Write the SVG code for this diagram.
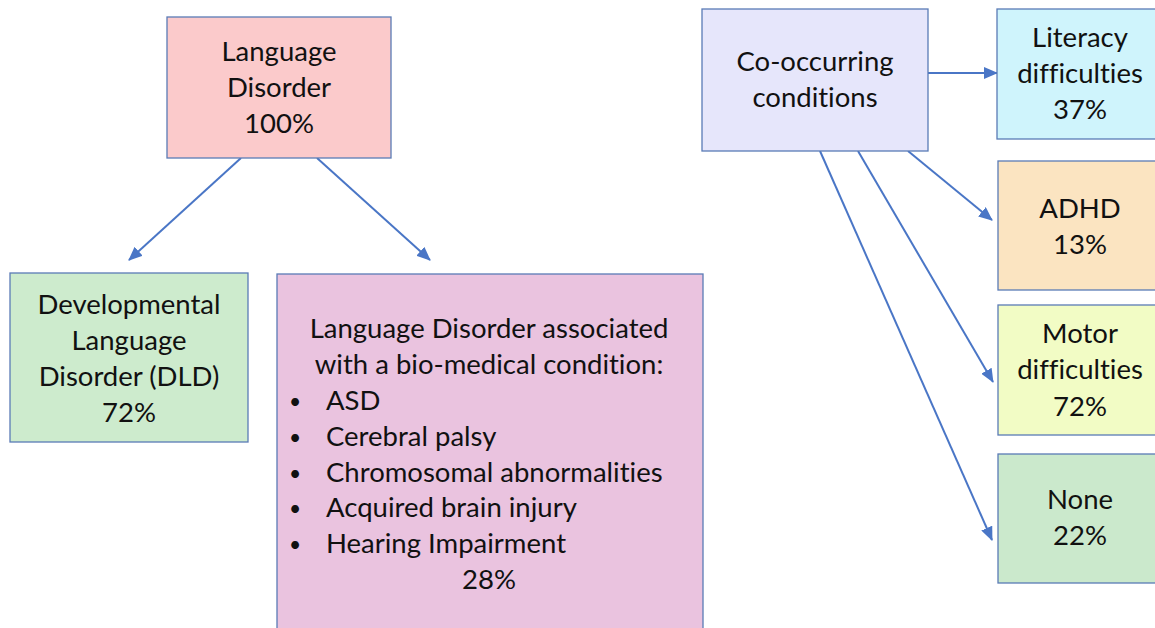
<svg xmlns="http://www.w3.org/2000/svg" width="1155" height="628" viewBox="0 0 1155 628">
<style>
.box{stroke:#5A7BB6;stroke-width:1.3}
.t{font-family:Lato,"Liberation Sans",sans-serif;font-size:27.5px;fill:#111;font-variant-ligatures:none}
.b{font-family:Lato,"Liberation Sans",sans-serif;font-size:21px;fill:#111}
.c{text-anchor:middle}
.conn{stroke:#4A76C6;stroke-width:2;fill:none}
</style>
<defs>
<marker id="ah" markerUnits="userSpaceOnUse" markerWidth="14" markerHeight="12" viewBox="0 0 14 12" refX="13" refY="6" orient="auto">
<path d="M0,0 L14,6 L0,12 Z" fill="#4A76C6"/>
</marker>
</defs>
<rect width="1155" height="628" fill="#fff"/>
<g id="connectors">
<line class="conn" x1="241" y1="158" x2="129" y2="260" marker-end="url(#ah)"/>
<line class="conn" x1="317" y1="158" x2="430" y2="260" marker-end="url(#ah)"/>
<line class="conn" x1="928" y1="73" x2="997" y2="73" marker-end="url(#ah)"/>
<line class="conn" x1="908" y1="151" x2="992" y2="220" marker-end="url(#ah)"/>
<line class="conn" x1="858" y1="151" x2="993" y2="382" marker-end="url(#ah)"/>
<line class="conn" x1="820" y1="151" x2="992" y2="540" marker-end="url(#ah)"/>
</g>
<g id="language-disorder">
<rect class="box" x="167" y="17" width="224" height="141" fill="#FBCACB"/>
<text class="t c" x="279" y="61">Language</text>
<text class="t c" x="279" y="97">Disorder</text>
<text class="t c" x="279" y="133">100%</text>
</g>
<g id="dld">
<rect class="box" x="10" y="273" width="238" height="169" fill="#CDEBCD"/>
<text class="t c" x="129" y="314">Developmental</text>
<text class="t c" x="129" y="350">Language</text>
<text class="t c" x="129" y="386">Disorder (DLD)</text>
<text class="t c" x="129" y="422">72%</text>
</g>
<g id="biomedical">
<rect class="box" x="277" y="274" width="426" height="360" fill="#EAC3DF"/>
<text class="t c" x="489" y="338">Language Disorder associated</text>
<text class="t c" x="489" y="374">with a bio-medical condition:</text>
<text class="b" x="289" y="409">•</text><text class="t" x="326" y="410">ASD</text>
<text class="b" x="289" y="445">•</text><text class="t" x="326" y="446">Cerebral palsy</text>
<text class="b" x="289" y="481">•</text><text class="t" x="326" y="482">Chromosomal abnormalities</text>
<text class="b" x="289" y="516">•</text><text class="t" x="326" y="517">Acquired brain injury</text>
<text class="b" x="289" y="552">•</text><text class="t" x="326" y="553">Hearing Impairment</text>
<text class="t c" x="489" y="589">28%</text>
</g>
<g id="co-occurring">
<rect class="box" x="702" y="9" width="226" height="142" fill="#E6E6FB"/>
<text class="t c" x="815" y="71">Co-occurring</text>
<text class="t c" x="815" y="107">conditions</text>
</g>
<g id="literacy">
<rect class="box" x="997" y="9" width="168" height="130" fill="#CFF4FC"/>
<text class="t c" x="1080" y="47">Literacy</text>
<text class="t c" x="1080" y="83">difficulties</text>
<text class="t c" x="1080" y="119">37%</text>
</g>
<g id="adhd">
<rect class="box" x="998" y="161" width="167" height="129" fill="#FBE4C1"/>
<text class="t c" x="1080" y="218">ADHD</text>
<text class="t c" x="1080" y="254">13%</text>
</g>
<g id="motor">
<rect class="box" x="998" y="305" width="167" height="130" fill="#F2FCC5"/>
<text class="t c" x="1080" y="343">Motor</text>
<text class="t c" x="1080" y="379">difficulties</text>
<text class="t c" x="1080" y="416">72%</text>
</g>
<g id="none">
<rect class="box" x="998" y="454" width="167" height="129" fill="#CBE9CC"/>
<text class="t c" x="1080" y="509">None</text>
<text class="t c" x="1080" y="545">22%</text>
</g>
</svg>
